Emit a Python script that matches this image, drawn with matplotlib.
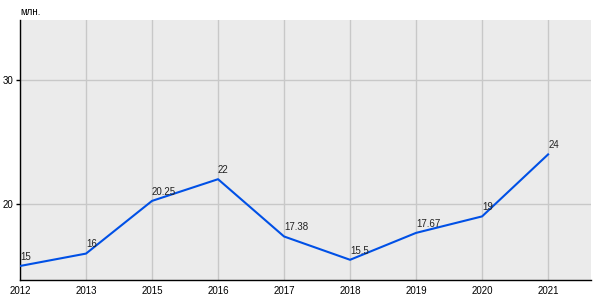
import matplotlib
matplotlib.use('Agg')
import matplotlib.pyplot as plt

# данные
years = ['2012', '2013', '2015', '2016', '2017', '2018', '2019', '2020', '2021']
values = [15, 16, 20.25, 22, 17.38, 15.5, 17.67, 19, 24]
labels = ['15', '16', '20.25', '22', '17.38', '15.5', '17.67', '19', '24']

plt.rcParams['font.family'] = ['Liberation Sans', 'DejaVu Sans']

fig = plt.figure(figsize=(6, 3), dpi=100)
ax = fig.add_axes([20 / 600, 20 / 300, 571 / 600, 260 / 300])
ax.set_facecolor('#EBEBEB')

x = list(range(len(years)))
ax.plot(x, values, color='#0050E6', lw=1.5, zorder=3)

for xi, v, lab in zip(x, values, labels):
    ax.annotate(lab, (xi, v), xytext=(0, 3), textcoords='offset points',
                fontsize=7, ha='left', va='bottom', color='#222222', zorder=4)

ax.set_xlim(0, 8.65)
ax.set_ylim(13.87, 34.84)
ax.set_xticks(x)
ax.set_xticklabels(years)
ax.set_yticks([20, 30])
ax.grid(True, color='#C8C8C8', lw=1)
ax.set_axisbelow(True)

for s in ['top', 'right']:
    ax.spines[s].set_visible(False)
for s in ['left', 'bottom']:
    ax.spines[s].set_color('black')
    ax.spines[s].set_linewidth(1)

ax.tick_params(axis='y', length=3, width=1, labelsize=7, pad=2)
ax.tick_params(axis='x', length=0, labelsize=7, pad=4)

fig.text(20 / 600, 1 - 12 / 300, 'млн.', fontsize=7, va='center', ha='left')

fig.savefig('out.png', dpi=100, facecolor='white')
